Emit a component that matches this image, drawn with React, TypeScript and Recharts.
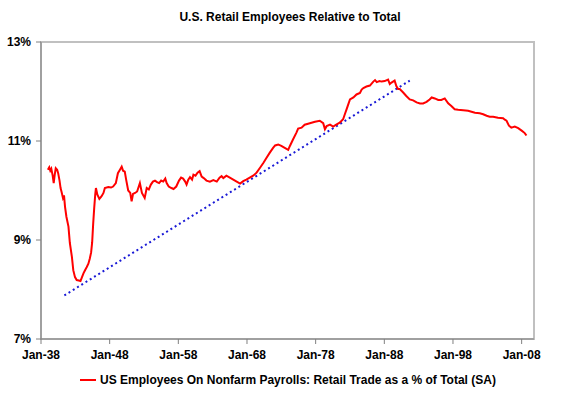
import { Line, LineChart, ReferenceArea, XAxis, YAxis } from "recharts";

const years = [
  1939.0, 1939.2, 1939.35, 1939.5, 1939.7, 1939.85, 1940.0, 1940.15, 1940.35, 1940.5, 1940.7, 1940.85,
  1941.0, 1941.2, 1941.35, 1941.5, 1941.7, 1942.0, 1942.2, 1942.5, 1942.7, 1942.95,
  1943.2, 1943.5, 1943.75, 1944.0, 1944.2, 1944.45, 1944.65, 1944.9, 1945.1, 1945.3, 1945.45, 1945.6,
  1945.75, 1945.9, 1946.0, 1946.2, 1946.5, 1946.8, 1947.1, 1947.3, 1947.8, 1948.2, 1948.5, 1948.9,
  1949.2, 1949.5, 1949.75, 1949.95, 1950.2, 1950.4, 1950.7, 1951.0, 1951.2, 1951.4,
  1951.7, 1952.0, 1952.4, 1952.7, 1953.1, 1953.4, 1953.7, 1954.0, 1954.3,
  1954.6, 1954.9, 1955.2, 1955.5, 1955.8, 1956.1, 1956.3, 1956.6, 1957.0, 1957.3, 1957.7, 1958.1,
  1958.4, 1958.7, 1959.0, 1959.2, 1959.45, 1959.7, 1960.0, 1960.2, 1960.5, 1960.8, 1961.1, 1961.4,
  1961.7, 1962.1, 1962.6, 1963.1, 1963.6, 1964.0, 1964.3, 1964.55, 1965.0, 1965.5, 1966.0, 1966.5,
  1967.0, 1967.45, 1967.9, 1968.4, 1968.9, 1969.4, 1969.9, 1970.4, 1970.85, 1971.3, 1971.8, 1972.1,
  1972.55, 1973.0, 1973.5, 1974.0, 1974.25, 1974.7, 1975.2, 1975.45, 1975.95, 1976.4, 1976.9, 1977.4,
  1977.9, 1978.6, 1979.1, 1979.35, 1979.6, 1980.1, 1980.55, 1981.0, 1981.5, 1982.0, 1982.25, 1982.5,
  1982.75, 1983.0, 1983.5, 1983.95, 1984.45, 1984.7, 1984.95, 1985.4, 1985.9, 1986.4, 1986.65, 1986.9,
  1987.3, 1987.6, 1988.05, 1988.55, 1988.8, 1989.05, 1989.5, 1989.75, 1990.0, 1990.25, 1990.75, 1991.2,
  1991.7, 1992.2, 1992.7, 1993.2, 1993.65, 1994.15, 1994.6, 1994.9, 1995.35, 1995.85, 1996.3, 1996.8,
  1997.3, 1997.8, 1998.25, 1998.75, 1999.5, 2000.2, 2000.7, 2001.2, 2001.9, 2002.4, 2002.9, 2003.35,
  2003.85, 2004.55, 2005.3, 2005.55, 2005.8, 2006.15, 2006.5, 2007.0, 2007.5, 2008.0, 2008.45, 2008.7,
];

const retailShare = [
  10.42, 10.47, 10.4, 10.44, 10.3, 10.15, 10.32, 10.45, 10.42, 10.35, 10.2, 10.05,
  9.97, 9.85, 9.9, 9.67, 9.47, 9.27, 8.94, 8.66, 8.39, 8.25,
  8.19, 8.18, 8.17, 8.26, 8.33, 8.4, 8.45, 8.52, 8.62, 8.75, 8.95, 9.33,
  9.65, 9.92, 10.05, 9.92, 9.83, 9.88, 9.95, 10.05, 10.07, 10.06, 10.08, 10.15,
  10.35, 10.42, 10.48, 10.4, 10.38, 10.22, 10.0, 9.95, 9.78, 9.93,
  9.95, 9.98, 10.15, 9.95, 9.85, 10.05, 10.02, 10.12, 10.18,
  10.2, 10.17, 10.15, 10.2, 10.18, 10.24, 10.15, 10.08, 10.05, 10.03, 10.08, 10.2,
  10.26, 10.24, 10.18, 10.12, 10.22, 10.27, 10.22, 10.32, 10.3, 10.36, 10.39, 10.28,
  10.25, 10.2, 10.18, 10.21, 10.18, 10.26, 10.29, 10.25, 10.3, 10.26, 10.22, 10.18,
  10.14, 10.19, 10.22, 10.26, 10.3, 10.36, 10.46, 10.56, 10.66, 10.76, 10.86, 10.91,
  10.93, 10.9, 10.86, 10.82, 10.9, 11.03, 11.17, 11.25, 11.27, 11.33, 11.35, 11.37,
  11.39, 11.41, 11.36, 11.24, 11.3, 11.33, 11.29, 11.33, 11.37, 11.44, 11.54, 11.64,
  11.74, 11.84, 11.88, 11.94, 11.97, 12.04, 12.07, 12.1, 12.12, 12.2, 12.23, 12.19,
  12.21, 12.2, 12.21, 12.24, 12.15, 12.18, 12.22, 12.11, 12.05, 12.05, 11.98, 11.91,
  11.84, 11.82, 11.78, 11.76, 11.76, 11.79, 11.84, 11.88, 11.86, 11.83, 11.83, 11.86,
  11.76, 11.7, 11.64, 11.63, 11.62, 11.61, 11.59, 11.57, 11.56, 11.54, 11.51, 11.49,
  11.49, 11.47, 11.46, 11.43, 11.41, 11.31, 11.27, 11.29, 11.26, 11.21, 11.16, 11.11,
];

const trendYears = [1941.4, 1991.7];
const trendValues = [7.88, 12.22];

const xTicks = [1938, 1948, 1958, 1968, 1978, 1988, 1998, 2008];
const yTicks = [7, 9, 11, 13];

const retailData = years.map((year, i) => ({ year, value: retailShare[i] }));
const trendData = trendYears.map((year, i) => ({ year, value: trendValues[i] }));

const font = "Arial, 'Liberation Sans', sans-serif";
const tickStyle = { fill: "#000", fontSize: 12, fontWeight: 700, fontFamily: font };

export default function App() {
  return (
    <div style={{ position: "absolute", left: 0, top: 0, width: 576, height: 394, background: "#fff", fontFamily: font }}>
      <div style={{ position: "absolute", top: 10, left: 2, width: 576, textAlign: "center", fontSize: 12, fontWeight: 700 }}>
        U.S. Retail Employees Relative to Total
      </div>
      <LineChart width={576} height={394} margin={{ top: 42, right: 42, left: 0, bottom: 25 }}>
        <ReferenceArea x1={1938} x2={2009.8} y1={7} y2={13} fill="none" stroke="#c0c0c0" strokeWidth={2} />
        <XAxis
          type="number"
          dataKey="year"
          domain={[1938, 2009.8]}
          ticks={xTicks}
          tickFormatter={(y: number) => `Jan-${String(y % 100).padStart(2, "0")}`}
          tick={tickStyle}
          stroke="#808080"
          tickSize={5}
          tickMargin={6}
          height={30}
          allowDataOverflow
        />
        <YAxis
          type="number"
          domain={[7, 13]}
          ticks={yTicks}
          tickFormatter={(v: number) => `${v}%`}
          tick={tickStyle}
          stroke="#808080"
          tickSize={5}
          tickMargin={5}
          width={41}
        />
        <Line data={trendData} dataKey="value" stroke="#1a1ad6" strokeWidth={2} strokeDasharray="2 3" dot={false} isAnimationActive={false} />
        <Line data={retailData} dataKey="value" stroke="#ff0000" strokeWidth={2} dot={false} isAnimationActive={false} />
      </LineChart>
      <div style={{ position: "absolute", top: 373, left: 0, width: 576, display: "flex", justifyContent: "center", alignItems: "center", fontSize: 12, fontWeight: 700 }}>
        <span style={{ display: "inline-block", width: 16, height: 2, background: "#ff0000", marginRight: 4 }} />
        US Employees On Nonfarm Payrolls: Retail Trade as a % of Total (SA)
      </div>
    </div>
  );
}
